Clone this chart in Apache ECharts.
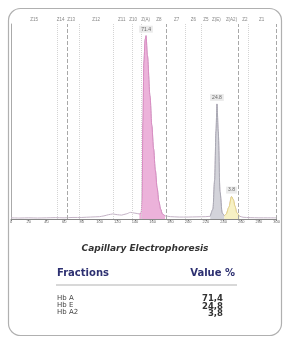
<!DOCTYPE html>
<html>
<head>
<meta charset="utf-8">
<title>Capillary Electrophoresis</title>
<script src="https://cdn.jsdelivr.net/npm/echarts@6/dist/echarts.min.js"></script>
<style>
  html, body { margin: 0; padding: 0; background: #fff; }
  #main { width: 283px; height: 344px; }
</style>
</head>
<body>
<div id="main"></div>
<script>
// electropherogram trace: [migration, signal]
var trace = [
    [0, 0.6], [10, 0.5], [20, 0.6], [30, 0.5], [40, 0.6], [50, 0.7], [60, 0.6], [70, 0.8],
    [80, 0.8], [90, 1.0], [100, 1.2], [105, 1.6], [110, 2.2], [115, 2.6], [120, 2.2],
    [125, 2.0], [130, 2.6], [135, 3.4], [140, 3.0], [145, 2.6], [147, 3], [148, 10],
    [149, 50], [150, 80], [151.5, 92], [152.5, 94], [154, 84], [157, 63], [159, 48], [161, 36],
    [163, 25], [165, 16], [167, 9], [169, 5], [171, 2.5], [174, 1.6], [180, 1.2], [190, 1.0],
    [200, 1.0], [210, 1.1], [220, 1.2], [225, 1.4], [228, 5], [230, 20], [231.5, 45],
    [232.6, 59], [234, 45], [236, 14], [238.5, 3], [241, 1.6], [243, 2.5], [246, 6],
    [249, 11.5], [251, 10], [253, 6.5], [255, 3.2], [258, 1.4], [262, 0.9], [270, 0.7],
    [280, 0.6], [290, 0.6], [300, 0.6]
];

// peaks (fill ranges on the migration axis)
var peakNames = ['Hb A', 'Hb E', 'Hb A2'];
var peakRanges = [[145, 176], [225, 241], [241, 258]];
var peakTops = [[152.5, 94], [232.6, 59], [249, 11.5]];
var peakLabels = ['71.4', '24.8', '3.8'];
var peakFill = ['#ecb2da', '#d3d3da', '#f7f1c4'];
var peakLine = ['#d98cc2', '#a8a8b2', '#e6d383'];

// zones
var zoneNames = ['Z15', 'Z14', 'Z13', 'Z12', 'Z11', 'Z10', 'Z(A)', 'Z8', 'Z7', 'Z6', 'Z5', 'Z(E)', 'Z(A2)', 'Z2', 'Z1'];
var zonePos = [26, 56, 68, 96, 125, 138, 152, 167, 187, 206, 220, 232, 249, 264, 283];
var dividers = [52, 77, 116, 137, 147, 197, 215, 268];
var dividersDark = [64, 175, 257, 300];

// result table
var fractions = ['Hb A', 'Hb E', 'Hb A2'];
var values = ['71,4', '24,8', '3,8'];

var chart = echarts.init(document.getElementById('main'));

function vline(list, color, type) {
    return list.map(function (v) {
        return { xAxis: v, lineStyle: { color: color, type: type, width: 1 } };
    });
}

var series = [{
    name: 'trace',
    type: 'line',
    data: trace,
    smooth: 0.3,
    smoothMonotone: 'x',
    symbol: 'none',
    lineStyle: { color: '#c4b3c6', width: 1 },
    z: 3,
    markLine: {
        silent: true,
        symbol: 'none',
        label: { show: false },
        data: vline(dividers, '#d4d4d4', 'dotted').concat(vline(dividersDark, '#a8a8a8', 'dashed'))
    }
}];

peakRanges.forEach(function (r, i) {
    series.push({
        name: peakNames[i],
        type: 'line',
        data: trace.filter(function (p) { return p[0] >= r[0] && p[0] <= r[1]; }),
        smooth: 0.3,
        smoothMonotone: 'x',
        symbol: 'none',
        lineStyle: { color: peakLine[i], width: 1 },
        areaStyle: { color: peakFill[i], opacity: 1 },
        z: 4
    });
});

series.push({
    name: 'peak labels',
    type: 'scatter',
    symbolSize: 0,
    data: peakTops.map(function (p, i) { return { value: p, name: peakLabels[i] }; }),
    label: {
        show: true,
        position: 'top',
        distance: 3,
        formatter: '{b}',
        fontSize: 5,
        color: '#444',
        backgroundColor: '#e6e6e6',
        padding: [1, 2]
    },
    z: 6
});

series.push({
    name: 'zones',
    type: 'scatter',
    symbolSize: 0,
    clip: false,
    data: zonePos.map(function (x, i) { return { value: [x, 100], name: zoneNames[i] }; }),
    label: {
        show: true,
        position: 'top',
        distance: 2,
        formatter: '{b}',
        fontSize: 4.5,
        color: '#666'
    },
    z: 6
});

var graphic = [{
    type: 'rect',
    shape: { x: 8.5, y: 8.5, width: 273, height: 327, r: 12 },
    style: { fill: 'none', stroke: '#b0b0b0', lineWidth: 1.2 },
    z: -1
}, {
    type: 'text',
    x: 145, y: 249,
    style: {
        text: 'Capillary Electrophoresis',
        font: 'italic bold 9px "DejaVu Sans"',
        fill: '#333', textAlign: 'center', textVerticalAlign: 'middle'
    }
}, {
    type: 'text',
    x: 57, y: 273,
    style: {
        text: 'Fractions', font: 'bold 10px "DejaVu Sans"',
        fill: '#2d3071', textAlign: 'left', textVerticalAlign: 'middle'
    }
}, {
    type: 'text',
    x: 235, y: 273,
    style: {
        text: 'Value %', font: 'bold 10px "DejaVu Sans"',
        fill: '#2d3071', textAlign: 'right', textVerticalAlign: 'middle'
    }
}, {
    type: 'line',
    shape: { x1: 56, y1: 285, x2: 237, y2: 285 },
    style: { stroke: '#d8d8d8', lineWidth: 2 }
}];

fractions.forEach(function (f, i) {
    var y = 298 + i * 7.3;
    graphic.push({
        type: 'text', x: 57, y: y,
        style: { text: f, font: '7px "DejaVu Sans"', fill: '#444', textAlign: 'left', textVerticalAlign: 'middle' }
    });
    graphic.push({
        type: 'text', x: 223, y: y + 1,
        style: { text: values[i], font: 'bold 8.5px "DejaVu Sans"', fill: '#333', textAlign: 'right', textVerticalAlign: 'middle' }
    });
});

chart.setOption({
    animation: false,
    grid: { left: 11, right: 5, top: 24, bottom: 125 },
    xAxis: {
        type: 'value',
        min: 0, max: 300, interval: 20,
        axisLine: { lineStyle: { color: '#888', width: 1 } },
        axisTick: { length: 2, lineStyle: { color: '#888' } },
        axisLabel: { fontSize: 4, color: '#666', margin: 1 },
        splitLine: { show: false }
    },
    yAxis: {
        type: 'value',
        min: 0, max: 100,
        axisLine: { show: true, lineStyle: { color: '#aaa' } },
        axisTick: { show: false },
        axisLabel: { show: false },
        splitLine: { show: false }
    },
    series: series,
    graphic: graphic
});
</script>
</body>
</html>
